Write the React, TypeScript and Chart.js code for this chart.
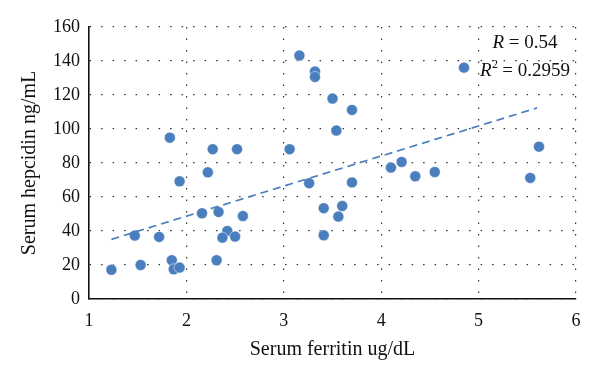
import React, { useEffect, useRef } from "react";
import { Chart, registerables } from "chart.js";

Chart.register(...registerables);

const ferritin = [1.23, 1.47, 1.53, 1.72, 1.83, 1.85, 1.87, 1.93, 1.93, 2.22, 2.27, 2.52, 2.16, 2.33, 2.58, 2.42, 2.37, 2.5, 2.31, 3.06, 3.16, 3.32, 3.32, 3.5, 3.54, 3.26, 3.41, 3.41, 3.56, 3.6, 3.7, 3.7, 4.1, 4.21, 4.35, 4.55, 4.85, 5.53, 5.62];
const hepcidin = [17.2, 37.3, 20, 36.5, 94.9, 22.8, 17.5, 18.5, 69.2, 74.5, 88.1, 88.1, 50.4, 51.2, 48.8, 40, 36.1, 36.7, 22.8, 88.1, 143.2, 133.8, 130.6, 117.9, 99.1, 68.1, 53.4, 37.5, 48.5, 54.7, 68.6, 111.2, 77.3, 80.6, 72.2, 74.7, 136.1, 71.2, 89.6];
const trendX = [1.23, 5.6];
const trendY = [35.1, 112.4];
const xTicks = [1, 2, 3, 4, 5, 6];
const yTicks = [0, 20, 40, 60, 80, 100, 120, 140, 160];
const statR = "0.54";
const statR2 = "0.2959";

const FONT = "'Liberation Serif', 'DejaVu Serif', serif";
const BLUE = "#4a7ebd";

export default function App() {
  const ref = useRef<HTMLCanvasElement | null>(null);
  useEffect(() => {
    if (!ref.current) return;
    const statsPlugin = {
      id: "stats",
      afterDraw(chart: any) {
        const ctx = chart.ctx;
        ctx.save();
        ctx.fillStyle = "#111";
        ctx.textBaseline = "middle";
        const cx = 525;
        const italic = `italic 19px ${FONT}`;
        const normal = `19px ${FONT}`;
        const small = `12px ${FONT}`;
        ctx.font = italic;
        const wR = ctx.measureText("R").width;
        ctx.font = normal;
        const rest1 = " = " + statR;
        const w1 = wR + ctx.measureText(rest1).width;
        let x = cx - w1 / 2;
        ctx.font = italic;
        ctx.fillText("R", x, 43);
        ctx.font = normal;
        ctx.fillText(rest1, x + wR, 43);
        const rest2 = " = " + statR2;
        ctx.font = small;
        const w2s = ctx.measureText("2").width;
        ctx.font = normal;
        const w2 = wR + w2s + ctx.measureText(rest2).width;
        x = cx - w2 / 2;
        ctx.font = italic;
        ctx.fillText("R", x, 71);
        ctx.font = small;
        ctx.fillText("2", x + wR + 0.5, 65);
        ctx.font = normal;
        ctx.fillText(rest2, x + wR + w2s, 71);
        ctx.restore();
      },
    };
    const chart = new Chart(ref.current, {
      type: "scatter",
      data: {
        datasets: [
          {
            type: "line",
            data: trendX.map((x, i) => ({ x, y: trendY[i] })),
            borderColor: BLUE,
            borderWidth: 1.7,
            borderDash: [8, 5],
            pointRadius: 0,
            fill: false,
          } as any,
          {
            data: ferritin.map((x, i) => ({ x, y: hepcidin[i] })),
            backgroundColor: BLUE,
            borderColor: "rgba(255,255,255,0.7)",
            borderWidth: 0.7,
            pointRadius: 5.5,
          },
        ],
      },
      options: {
        animation: false,
        responsive: false,
        layout: { padding: { top: 27, right: 24, left: 0, bottom: 0 } },
        plugins: { legend: { display: false }, tooltip: { enabled: false } },
        scales: {
          x: {
            type: "linear",
            min: 1,
            max: 6,
            afterBuildTicks: (s: any) => {
              s.ticks = xTicks.map((v) => ({ value: v }));
            },
            afterFit: (s: any) => {
              s.height = 83;
            },
            ticks: { color: "#111", font: { family: FONT, size: 18 }, padding: 11 },
            grid: { color: "#333", lineWidth: 1.2, drawTicks: false },
            border: { color: "#111", width: 1.6, dash: [1.5, 10] },
            title: {
              display: true,
              text: "Serum ferritin ug/dL",
              color: "#111",
              font: { family: FONT, size: 20 },
              padding: { bottom: 20, top: 0 },
            },
          },
          y: {
            type: "linear",
            min: 0,
            max: 160,
            afterBuildTicks: (s: any) => {
              s.ticks = yTicks.map((v) => ({ value: v }));
            },
            afterFit: (s: any) => {
              s.width = 89;
            },
            ticks: { color: "#111", font: { family: FONT, size: 18 }, padding: 9 },
            grid: { color: "#333", lineWidth: 1.2, drawTicks: false },
            border: { color: "#111", width: 1.6, dash: [1.5, 10] },
            title: {
              display: true,
              text: "Serum hepcidin ng/mL",
              color: "#111",
              font: { family: FONT, size: 20 },
              padding: { top: 18, bottom: 0 },
            },
          },
        },
      },
      plugins: [statsPlugin],
    });
    return () => chart.destroy();
  }, []);
  return (
    <div style={{ position: "fixed", left: 0, top: 0, width: 600, height: 382, background: "#fff" }}>
      <canvas ref={ref} width={600} height={382} style={{ width: 600, height: 382 }} />
    </div>
  );
}
